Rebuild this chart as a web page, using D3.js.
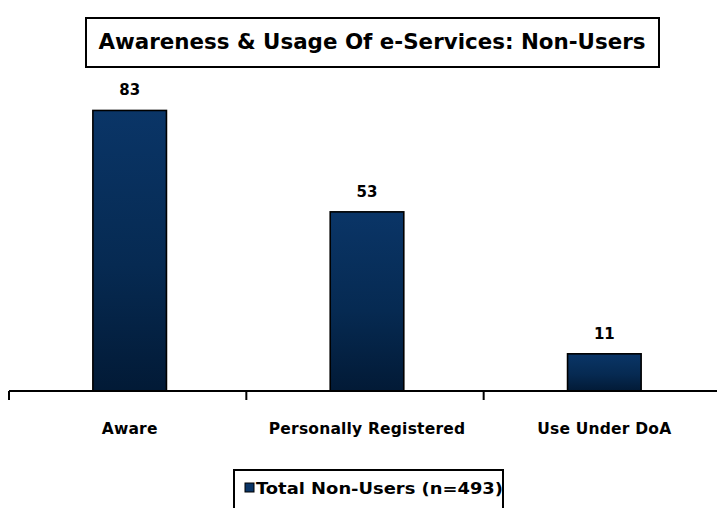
<!DOCTYPE html>
<html>
<head>
<meta charset="utf-8">
<script src="https://cdn.jsdelivr.net/npm/d3@7"></script>
<style>
  html, body { margin: 0; padding: 0; background: #fff; }
  svg { display: block; }
  text { font-family: "DejaVu Sans", Verdana, sans-serif; font-weight: bold; fill: #000; }
</style>
</head>
<body>
<svg id="chart" width="717" height="508"></svg>
<script>
// Survey results: awareness and usage of e-services among non-users (%)
const categories = ["Aware", "Personally Registered", "Use Under DoA"];
const values = [83, 53, 11];
const seriesName = "Total Non-Users (n=493)";
const chartTitle = "Awareness & Usage Of e-Services: Non-Users";

const svg = d3.select("#chart");
const W = 717, H = 508;
const baseY = 391, topY = 53;

const defs = svg.append("defs");
const grad = defs.append("linearGradient")
  .attr("id", "barFill").attr("x1", 0).attr("y1", 0).attr("x2", 0).attr("y2", 1);
grad.append("stop").attr("offset", "0%").attr("stop-color", "#0a3567");
grad.append("stop").attr("offset", "55%").attr("stop-color", "#062a52");
grad.append("stop").attr("offset", "100%").attr("stop-color", "#021a36");

// Category bands span the full width; bars sit in the middle of each band
const x = d3.scaleBand().domain(categories).range([9, 721]).padding(0);
const barW = x.bandwidth() * 0.31;
const barShift = 2;
const y = d3.scaleLinear().domain([0, 100]).range([baseY, topY]);

// Bars
svg.append("g").selectAll("rect")
  .data(values)
  .join("rect")
  .attr("x", (d, i) => x(categories[i]) + x.bandwidth() / 2 - barW / 2 + barShift)
  .attr("y", d => y(d))
  .attr("width", barW)
  .attr("height", d => baseY - y(d))
  .attr("fill", "url(#barFill)")
  .attr("stroke", "#000")
  .attr("stroke-width", 1.6);

// Value labels
svg.append("g").selectAll("text")
  .data(values)
  .join("text")
  .attr("x", (d, i) => x(categories[i]) + x.bandwidth() / 2 + barShift)
  .attr("y", d => y(d) - 15)
  .attr("text-anchor", "middle")
  .attr("font-size", 15)
  .text(d => d);

// Category axis with ticks at band boundaries
const axis = d3.axisBottom(x).tickSize(0).tickPadding(32);
const gAxis = svg.append("g").attr("transform", `translate(${barShift},${baseY})`).call(axis);
gAxis.select(".domain").remove();
gAxis.selectAll("text")
  .attr("font-size", 15.5)
  .style("font-family", "'DejaVu Sans', Verdana, sans-serif")
  .style("font-weight", "bold")
  .attr("fill", "#000")
  .attr("letter-spacing", 0.2);

svg.append("line")
  .attr("x1", 9).attr("x2", W).attr("y1", baseY).attr("y2", baseY)
  .attr("stroke", "#000").attr("stroke-width", 2);
svg.append("g").selectAll("line")
  .data(categories)
  .join("line")
  .attr("x1", d => x(d)).attr("x2", d => x(d))
  .attr("y1", baseY).attr("y2", baseY + 9)
  .attr("stroke", "#000").attr("stroke-width", 2);

// Title box
svg.append("rect")
  .attr("x", 86).attr("y", 18).attr("width", 573).attr("height", 49)
  .attr("fill", "#fff").attr("stroke", "#000").attr("stroke-width", 2);
const title = svg.append("text")
  .attr("x", 372).attr("y", 49)
  .attr("text-anchor", "middle")
  .attr("font-size", 21.5)
  .text(chartTitle);
title.attr("textLength", 547).attr("lengthAdjust", "spacingAndGlyphs");

// Legend box
svg.append("rect")
  .attr("x", 234).attr("y", 470).attr("width", 269).attr("height", 50)
  .attr("fill", "#fff").attr("stroke", "#000").attr("stroke-width", 2);
svg.append("rect")
  .attr("x", 245).attr("y", 483).attr("width", 9).attr("height", 9)
  .attr("fill", "#0a3567").attr("stroke", "#000").attr("stroke-width", 1);
const leg = svg.append("text")
  .attr("x", 256).attr("y", 494)
  .attr("font-size", 16)
  .text(seriesName);
leg.attr("textLength", 247).attr("lengthAdjust", "spacingAndGlyphs");
</script>
</body>
</html>
